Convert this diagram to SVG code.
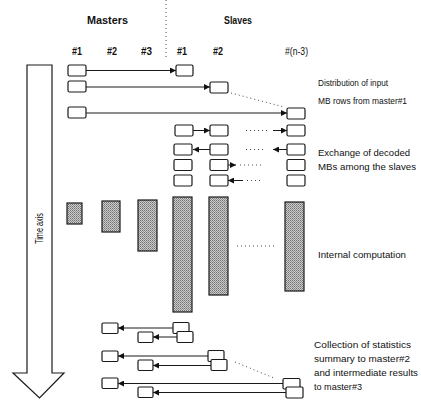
<svg xmlns="http://www.w3.org/2000/svg" width="421" height="404" viewBox="0 0 421 404">
<style>
.bx{fill:#fff;stroke:#1a1a1a;stroke-width:1.2}
.sh{fill:url(#dots);stroke:#1a1a1a;stroke-width:1.2}
.ln{stroke:#1a1a1a;stroke-width:1;fill:none}
.dt{stroke:#333;stroke-width:0.9;stroke-dasharray:1 3;fill:none}
.t{font-family:"Liberation Sans",Arial,sans-serif;font-size:11px;fill:#111}
.lb{font-family:"Liberation Sans",Arial,sans-serif;font-size:9.5px;fill:#111}
.h{font-family:"Liberation Sans",Arial,sans-serif;font-size:11.5px;fill:#111;font-weight:bold}
</style>
<defs>
<pattern id="dots" width="2" height="2" patternUnits="userSpaceOnUse">
<rect width="2" height="2" fill="#cccccc"/>
<rect width="1" height="1" fill="#727272"/>
<rect x="1" y="1" width="1" height="1" fill="#909090"/>
</pattern>
<marker id="ah" viewBox="0 0 6 6" refX="6" refY="3" markerWidth="6" markerHeight="6" markerUnits="userSpaceOnUse" orient="auto">
<path d="M0,0 L6,3 L0,6 z" fill="#111"/>
</marker>
</defs>

<g id="headers">
<line x1="166" y1="0" x2="166" y2="60" class="dt"/>
<text class="h" x="87" y="24" textLength="41" lengthAdjust="spacingAndGlyphs">Masters</text>
<text class="h" x="224" y="24" textLength="28" lengthAdjust="spacingAndGlyphs">Slaves</text>
<text class="h" x="72" y="55" textLength="10" lengthAdjust="spacingAndGlyphs">#1</text>
<text class="h" x="107" y="55" textLength="10" lengthAdjust="spacingAndGlyphs">#2</text>
<text class="h" x="141" y="55" textLength="11" lengthAdjust="spacingAndGlyphs">#3</text>
<text class="h" x="177" y="55" textLength="10" lengthAdjust="spacingAndGlyphs">#1</text>
<text class="h" x="213" y="55" textLength="10" lengthAdjust="spacingAndGlyphs">#2</text>
<text class="t" x="285" y="55" textLength="23" lengthAdjust="spacingAndGlyphs">#(n-3)</text>
</g>

<g id="time-axis">
<polygon points="27,65 52,65 52,373 64,373 39.5,398 13,373 27,373" fill="#fff" stroke="#1a1a1a" stroke-width="1.2"/>
<text class="t" transform="translate(43,244) rotate(-90)" textLength="31" lengthAdjust="spacingAndGlyphs">Time axis</text>
</g>

<g id="labels">
<text class="lb" x="318" y="86" textLength="70" lengthAdjust="spacingAndGlyphs">Distribution of input</text>
<text class="lb" x="318" y="104" textLength="89" lengthAdjust="spacingAndGlyphs">MB rows from master#1</text>
<text class="lb" x="318" y="156" textLength="92" lengthAdjust="spacingAndGlyphs">Exchange of decoded</text>
<text class="lb" x="318" y="170" textLength="98" lengthAdjust="spacingAndGlyphs">MBs among the slaves</text>
<text class="lb" x="318" y="258" textLength="88" lengthAdjust="spacingAndGlyphs">Internal computation</text>
<text class="lb" x="314" y="348" textLength="97" lengthAdjust="spacingAndGlyphs">Collection of statistics</text>
<text class="lb" x="314" y="362" textLength="96" lengthAdjust="spacingAndGlyphs">summary to master#2</text>
<text class="lb" x="314" y="376" textLength="104" lengthAdjust="spacingAndGlyphs">and intermediate results</text>
<text class="lb" x="314" y="390" textLength="48" lengthAdjust="spacingAndGlyphs">to master#3</text>
</g>

<g id="connectors">
<line class="ln" x1="86" y1="70.5" x2="176" y2="70.5" marker-end="url(#ah)"/>
<line class="ln" x1="86" y1="87" x2="210" y2="87" marker-end="url(#ah)"/>
<line class="dt" x1="231" y1="93" x2="284" y2="107"/>
<line class="ln" x1="86" y1="113" x2="287" y2="113" marker-end="url(#ah)"/>
<line class="ln" x1="193" y1="130.5" x2="210" y2="130.5" marker-end="url(#ah)"/>
<line class="dt" x1="246" y1="130.5" x2="268" y2="130.5"/>
<line class="ln" x1="273" y1="130.5" x2="287" y2="130.5" marker-end="url(#ah)"/>
<line class="ln" x1="210" y1="149.5" x2="193" y2="149.5" marker-end="url(#ah)"/>
<line class="dt" x1="246" y1="149.5" x2="264" y2="149.5"/>
<line class="ln" x1="287" y1="149.5" x2="273" y2="149.5" marker-end="url(#ah)"/>
<line class="ln" x1="228" y1="165" x2="236" y2="165" marker-end="url(#ah)"/>
<line class="dt" x1="240" y1="165" x2="264" y2="165"/>
<line class="ln" x1="243" y1="180.5" x2="228" y2="180.5" marker-end="url(#ah)"/>
<line class="dt" x1="247" y1="180.5" x2="261" y2="180.5"/>
<line class="dt" x1="237" y1="246" x2="277" y2="246"/>
<line class="ln" x1="173" y1="328" x2="118" y2="328" marker-end="url(#ah)"/>
<line class="ln" x1="177" y1="337" x2="153" y2="337" marker-end="url(#ah)"/>
<line class="ln" x1="208" y1="356" x2="118" y2="356" marker-end="url(#ah)"/>
<line class="ln" x1="211" y1="365.5" x2="153" y2="365.5" marker-end="url(#ah)"/>
<line class="dt" x1="235" y1="362" x2="274" y2="378"/>
<line class="ln" x1="283" y1="383.5" x2="118" y2="383.5" marker-end="url(#ah)"/>
<line class="ln" x1="286" y1="392.5" x2="153" y2="392.5" marker-end="url(#ah)"/>
</g>

<g id="distribution">
<g id="r1-m1"><rect class="bx" x="68" y="65" width="18" height="11" rx="1.5"/></g>
<g id="r1-s1"><rect class="bx" x="176" y="65" width="17" height="11" rx="1.5"/></g>
<g id="r2-m1"><rect class="bx" x="68" y="81" width="18" height="11" rx="1.5"/></g>
<g id="r2-s2"><rect class="bx" x="210" y="82" width="18" height="11" rx="1.5"/></g>
<g id="r3-m1"><rect class="bx" x="68" y="107" width="18" height="11" rx="1.5"/></g>
<g id="r3-sn"><rect class="bx" x="287" y="108" width="18" height="11" rx="1.5"/></g>
</g>

<g id="exchange">
<g id="r4-s1"><rect class="bx" x="175" y="125" width="18" height="11" rx="1.5"/></g>
<g id="r4-s2"><rect class="bx" x="210" y="125" width="18" height="11" rx="1.5"/></g>
<g id="r4-sn"><rect class="bx" x="287" y="125" width="18" height="11" rx="1.5"/></g>
<g id="r5-s1"><rect class="bx" x="174" y="144" width="18" height="11" rx="1.5"/></g>
<g id="r5-s2"><rect class="bx" x="210" y="144" width="18" height="11" rx="1.5"/></g>
<g id="r5-sn"><rect class="bx" x="287" y="144" width="18" height="11" rx="1.5"/></g>
<g id="r6-s1"><rect class="bx" x="174" y="159.5" width="18" height="11" rx="1.5"/></g>
<g id="r6-s2"><rect class="bx" x="210" y="159.5" width="18" height="11" rx="1.5"/></g>
<g id="r6-sn"><rect class="bx" x="287" y="159.5" width="18" height="11" rx="1.5"/></g>
<g id="r7-s1"><rect class="bx" x="174" y="175" width="18" height="11" rx="1.5"/></g>
<g id="r7-s2"><rect class="bx" x="210" y="175" width="18" height="11" rx="1.5"/></g>
<g id="r7-sn"><rect class="bx" x="287" y="175" width="18" height="11" rx="1.5"/></g>
</g>

<g id="computation">
<g id="c-m1"><rect class="sh" x="67" y="203" width="15" height="21"/></g>
<g id="c-m2"><rect class="sh" x="102" y="201" width="18" height="31"/></g>
<g id="c-m3"><rect class="sh" x="138" y="200" width="19" height="51"/></g>
<g id="c-s1"><rect class="sh" x="173" y="197" width="19" height="115"/></g>
<g id="c-s2"><rect class="sh" x="209" y="197" width="19" height="98"/></g>
<g id="c-sn"><rect class="sh" x="285" y="202" width="19" height="89"/></g>
</g>

<g id="collection">
<g id="g1-m2"><rect class="bx" x="102" y="323" width="16" height="10.5" rx="1.2"/></g>
<g id="g1-m3"><rect class="bx" x="138" y="332" width="15" height="10.5" rx="1.2"/></g>
<g id="g1-s1a"><rect class="bx" x="173" y="322.5" width="16" height="11" rx="1.2"/></g>
<g id="g1-s1b"><rect class="bx" x="177" y="331.5" width="16" height="11" rx="1.2"/></g>
<g id="g2-m2"><rect class="bx" x="102" y="351" width="16" height="10.5" rx="1.2"/></g>
<g id="g2-m3"><rect class="bx" x="138" y="360" width="15" height="10.5" rx="1.2"/></g>
<g id="g2-s2a"><rect class="bx" x="208" y="350.5" width="16" height="11" rx="1.2"/></g>
<g id="g2-s2b"><rect class="bx" x="211" y="359.5" width="16" height="11" rx="1.2"/></g>
<g id="g3-m2"><rect class="bx" x="102" y="378" width="16" height="10.5" rx="1.2"/></g>
<g id="g3-m3"><rect class="bx" x="138" y="387" width="15" height="10.5" rx="1.2"/></g>
<g id="g3-sna"><rect class="bx" x="283" y="378.5" width="17" height="10.5" rx="1.2"/></g>
<g id="g3-snb"><rect class="bx" x="286" y="387" width="17" height="11" rx="1.2"/></g>
</g>
</svg>
